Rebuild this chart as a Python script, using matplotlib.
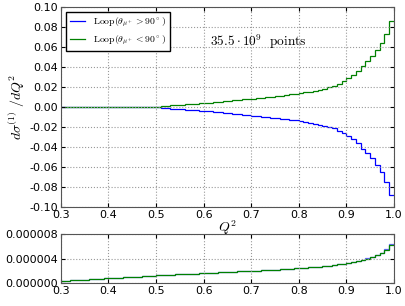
import numpy as np
import matplotlib
matplotlib.use('Agg')
import matplotlib.pyplot as plt
from matplotlib.ticker import FormatStrFormatter

plt.rcParams['mathtext.fontset'] = 'cm'
plt.rcParams['font.size'] = 8

# bin edges 0.3 .. 1.0, width 0.01
edges = np.round(np.arange(0.30, 1.0001, 0.01), 2)

# |d sigma / dQ^2| per bin, zero below Q^2 = 0.5
zeros_low = [0.0] * 20
mag_green = [0.0003, 0.0008, 0.0012, 0.0016, 0.0019, 0.0023, 0.0026, 0.0029, 0.0032, 0.0036,
             0.0040, 0.0044, 0.0049, 0.0053, 0.0058, 0.0062, 0.0067, 0.0071, 0.0076, 0.0080,
             0.0085, 0.0090, 0.0095, 0.0100, 0.0105, 0.0110, 0.0115, 0.0121, 0.0127, 0.0133,
             0.0140, 0.0147, 0.0155, 0.0164, 0.0174, 0.0185, 0.0197, 0.0211, 0.0235, 0.0258,
             0.0290, 0.0325, 0.0365, 0.0410, 0.0458, 0.0508, 0.0572, 0.0640, 0.0735, 0.0865]
mag_blue = [0.0003, 0.0008, 0.0012, 0.0016, 0.0020, 0.0023, 0.0026, 0.0030, 0.0033, 0.0036,
            0.0040, 0.0044, 0.0049, 0.0054, 0.0058, 0.0063, 0.0067, 0.0072, 0.0076, 0.0081,
            0.0086, 0.0091, 0.0096, 0.0101, 0.0106, 0.0111, 0.0116, 0.0122, 0.0128, 0.0134,
            0.0141, 0.0148, 0.0156, 0.0165, 0.0175, 0.0186, 0.0198, 0.0212, 0.0236, 0.0262,
            0.0292, 0.0322, 0.0362, 0.0418, 0.0462, 0.0512, 0.0578, 0.0645, 0.0750, 0.0875]
loop_gt90 = [-v for v in zeros_low + mag_blue]
loop_lt90 = zeros_low + mag_green

# lower panel (units of 1e-6)
low_blue = [0.35, 0.40, 0.44, 0.49, 0.53, 0.58, 0.62, 0.67, 0.71, 0.76,
            0.80, 0.85, 0.89, 0.94, 0.98, 1.03, 1.07, 1.12, 1.16, 1.21,
            1.25, 1.29, 1.33, 1.37, 1.41, 1.45, 1.49, 1.52, 1.56, 1.60,
            1.64, 1.67, 1.71, 1.75, 1.78, 1.82, 1.86, 1.90, 1.94, 1.97,
            2.01, 2.05, 2.09, 2.13, 2.17, 2.21, 2.26, 2.30, 2.35, 2.40,
            2.45, 2.51, 2.57, 2.63, 2.70, 2.77, 2.85, 2.94, 3.04, 3.15,
            3.30, 3.45, 3.62, 3.80, 4.02, 4.27, 4.57, 4.95, 5.50, 6.40]
low_green = [0.35, 0.40, 0.44, 0.49, 0.53, 0.58, 0.62, 0.67, 0.71, 0.76,
             0.80, 0.85, 0.89, 0.94, 0.98, 1.03, 1.07, 1.12, 1.16, 1.21,
             1.25, 1.29, 1.33, 1.37, 1.41, 1.45, 1.49, 1.52, 1.56, 1.60,
             1.64, 1.67, 1.71, 1.75, 1.78, 1.82, 1.86, 1.90, 1.94, 1.97,
             2.01, 2.05, 2.09, 2.13, 2.17, 2.21, 2.26, 2.30, 2.35, 2.40,
             2.45, 2.51, 2.57, 2.63, 2.70, 2.77, 2.85, 2.94, 3.04, 3.15,
             3.28, 3.42, 3.60, 3.78, 3.98, 4.22, 4.52, 4.90, 5.40, 6.20]

fig = plt.figure(figsize=(4.06, 3.06), dpi=100)
ax1 = fig.add_axes([0.150, 0.3235, 0.820, 0.6535])
ax2 = fig.add_axes([0.150, 0.075, 0.820, 0.160])

ax1.stairs(loop_gt90, edges, color='#0000ff', lw=0.9, baseline=None,
           label=r'$\mathrm{Loop}(\theta_{\mu^+}>90^\circ)$')
ax1.stairs(loop_lt90, edges, color='#008000', lw=0.9, baseline=None,
           label=r'$\mathrm{Loop}(\theta_{\mu^+}<90^\circ)$')
ax1.set_xlim(0.3, 1.0)
ax1.set_ylim(-0.1, 0.1)
ax1.set_yticks(np.arange(-0.10, 0.101, 0.02))
ax1.yaxis.set_major_formatter(FormatStrFormatter('%.2f'))
ax1.set_xlabel(r'$Q^2$', fontsize=10, labelpad=-1)
ax1.set_ylabel(r'$d\sigma^{(1)}\ /dQ^2$', fontsize=10, labelpad=2)
ax1.grid(True, ls=':', color='#999999', lw=0.8)
ax1.legend(loc='upper left', fontsize=7, fancybox=False, edgecolor='black',
           framealpha=1, handlelength=1.6, borderaxespad=0.5)
ax1.text(0.613, 0.061, r'$35.5 \cdot 10^9\ \ \mathrm{points}$', fontsize=9.6)

ax2.stairs(np.array(low_blue) * 1e-6, edges, color='#0000ff', lw=0.9, baseline=None, alpha=0.6)
ax2.stairs(np.array(low_green) * 1e-6, edges, color='#008000', lw=0.9, baseline=None)
ax2.set_xlim(0.3, 1.0)
ax2.set_ylim(0, 8e-6)
ax2.set_yticks([0, 4e-6, 8e-6])
ax2.yaxis.set_major_formatter(FormatStrFormatter('%.6f'))
ax2.grid(True, ls=':', color='#999999', lw=0.8)

for ax in (ax1, ax2):
    ax.tick_params(direction='in', top=True, right=True, labelsize=8, length=3, pad=2)
    for s in ax.spines.values():
        s.set_color('#555555')

fig.savefig('out.png', dpi=100)
